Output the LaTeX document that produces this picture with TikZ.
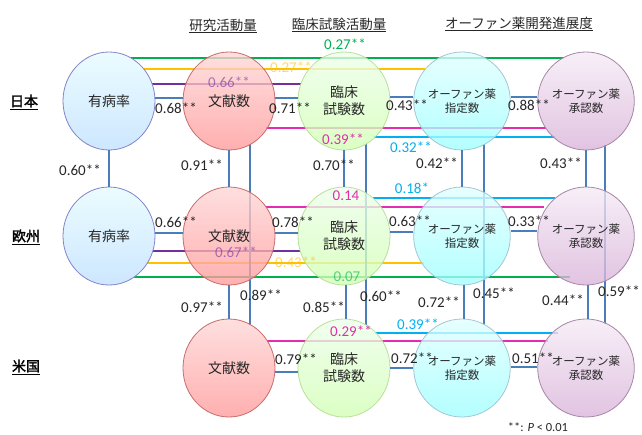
\documentclass[tikz,border=0pt]{standalone}
\usepackage{fontspec}
\setmainfont{Carlito}
\newfontfamily\jp{Noto Sans CJK JP}
\newfontfamily\jpb[FakeBold=2]{Noto Sans CJK JP}
\usetikzlibrary{shapes.geometric,calc}
\definecolor{conn}{HTML}{4A7EBB}
\definecolor{cgreen}{HTML}{00B050}
\definecolor{cyellow}{HTML}{FFC000}
\definecolor{cpurple}{HTML}{7030A0}
\definecolor{cmag}{HTML}{E32DB0}
\definecolor{ccyan}{HTML}{00B0F0}
\definecolor{txt}{HTML}{262626}
\begin{document}
\begin{tikzpicture}[x=1pt,y=-1pt,
  circ/.style={ellipse, minimum width=92pt, minimum height=98pt, inner sep=0pt,
    line width=0.8pt, fill opacity=0.78, text opacity=1, align=center,
    text=txt, font=\jp\fontsize{14}{17}\selectfont},
  prevc/.style={circ, draw=blue!40!gray!70, top color=blue!14!cyan!10, bottom color=blue!48!cyan!25},
  litc/.style={circ, draw=red!45!gray!80, top color=red!16, bottom color=red!40},
  clinc/.style={circ, draw=green!40!olive!40, top color=yellow!10!green!8, bottom color=yellow!40!green!30},
  desc/.style={circ, draw=cyan!40!gray!60, top color=cyan!12, bottom color=cyan!38, font=\jp\fontsize{11.5}{14.5}\selectfont},
  appc/.style={circ, draw=violet!35!gray!70, top color=violet!8, bottom color=violet!30, font=\jp\fontsize{11.5}{14.5}\selectfont},
  cn/.style={line width=2.2pt, draw=conn},
  cl/.style={line width=2.2pt, draw=#1},
  num/.style={inner sep=0pt, text=txt, font=\fontsize{15}{16}\selectfont},
  cnum/.style={inner sep=0pt, text=#1, font=\fontsize{15}{16}\selectfont},
  fnum/.style={inner sep=0pt, text=#1, text opacity=0.6, font=\fontsize{15}{16}\selectfont},
  head/.style={inner sep=0pt, text=txt, font=\jp\fontsize{13.5}{16}\selectfont},
  rowl/.style={inner sep=0pt, text=black, font=\jpb\fontsize{14}{16}\selectfont}
]
\useasboundingbox (0,0) rectangle (642,434);

\coordinate (jPc) at (109,101); \coordinate (jLc) at (229,101); \coordinate (jCc) at (344,101);
\coordinate (jDc) at (462,101); \coordinate (jAc) at (586,101);
\coordinate (ePc) at (109,236); \coordinate (eLc) at (229,236); \coordinate (eCc) at (344,236);
\coordinate (eDc) at (462,236); \coordinate (eAc) at (586,236);
\coordinate (uLc) at (229,368); \coordinate (uCc) at (344,368);
\coordinate (uDc) at (462,368); \coordinate (uAc) at (586,368);

% Japan coloured lines
\draw[cl=cgreen]  ($(jPc)+(22,-43)$) -- ($(jAc)+(-22,-43)$);
\draw[cl=cyellow] ($(jPc)+(35,-32)$) -- ($(jDc)+(-37,-32)$);
\draw[cl=cpurple] ($(jPc)+(43,-17)$) -- ($(jCc)+(-43,-17)$);
\draw[cl=cmag]    ($(jLc)+(37,27)$) -- ($(jAc)+(-40,27)$);
\draw[cl=ccyan]   ($(jCc)+(30,36)$) -- ($(jAc)+(-31,36)$);
% Europe coloured lines
\draw[cl=ccyan]   ($(eCc)+(29,-38)$) -- ($(eAc)+(-31,-38)$);
\draw[cl=cmag]    ($(eLc)+(37,-29)$) -- ($(eAc)+(-42,-29)$);
\draw[cl=cpurple] ($(ePc)+(44,15)$) -- ($(eCc)+(-44,15)$);
\draw[cl=cyellow] ($(ePc)+(38,27)$) -- ($(eDc)+(-38,27)$);
\draw[cl=cgreen]  ($(ePc)+(25,41)$) -- ($(eAc)+(-16,41)$);
% US coloured lines
\draw[cl=cmag]    ($(uLc)+(38,-27)$) -- ($(uAc)+(-38,-27)$);
\draw[cl=ccyan]   ($(uCc)+(31,-35)$) -- ($(uAc)+(-28,-35)$);

% long Japan-US verticals
\draw[cn] ($(jLc)+(21,43)$) -- ($(uLc)+(21,-43)$);
\draw[cn] ($(jCc)+(22,43)$) -- ($(uCc)+(22,-43)$);
\draw[cn] ($(jDc)+(22,43)$) -- ($(uDc)+(22,-43)$);
\draw[cn] ($(jAc)+(19,44)$) -- ($(uAc)+(19,-44)$);

% circles
\node[prevc] (jP) at (jPc) {有病率};
\node[litc]  (jL) at (jLc) {文献数};
\node[clinc] (jC) at (jCc) {臨床\\試験数};
\node[desc]  (jD) at (jDc) {オーファン薬\\指定数};
\node[appc]  (jA) at (jAc) {オーファン薬\\承認数};
\node[prevc] (eP) at (ePc) {有病率};
\node[litc]  (eL) at (eLc) {文献数};
\node[clinc] (eC) at (eCc) {臨床\\試験数};
\node[desc]  (eD) at (eDc) {オーファン薬\\指定数};
\node[appc]  (eA) at (eAc) {オーファン薬\\承認数};
\node[litc]  (uL) at (uLc) {文献数};
\node[clinc] (uC) at (uCc) {臨床\\試験数};
\node[desc]  (uD) at (uDc) {オーファン薬\\指定数};
\node[appc]  (uA) at (uAc) {オーファン薬\\承認数};

% faded coloured labels
\node[fnum=cyellow] (y1) at (291,67) {0.27**};
\node[fnum=cpurple] (p1) at (229,82) {0.66**};
\node[fnum=cpurple] (p2) at (236,252) {0.67**};
\node[fnum=cyellow] (y2) at (296,262) {0.43**};
\node[fnum=cgreen] (g2) at (347,277) {0.07};

% short horizontal connectors
\draw[cn] ([yshift=3pt]jP.east) -- ([yshift=3pt]jL.west);
\draw[cn] ([yshift=3pt]jL.east) -- ([yshift=3pt]jC.west);
\draw[cn] ([yshift=4pt]jC.east) -- ([yshift=4pt]jD.west);
\draw[cn] ([yshift=4pt]jD.east) -- ([yshift=4pt]jA.west);
\draw[cn] ([yshift=3pt]eP.east) -- ([yshift=3pt]eL.west);
\draw[cn] ([yshift=3pt]eL.east) -- ([yshift=3pt]eC.west);
\draw[cn] ([yshift=4pt]eC.east) -- ([yshift=4pt]eD.west);
\draw[cn] ([yshift=5pt]eD.east) -- ([yshift=5pt]eA.west);
\draw[cn] ([yshift=-4pt]uL.east) -- ([yshift=-4pt]uC.west);
\draw[cn] (uC.east) -- (uD.west);
\draw[cn] ([yshift=1pt]uD.east) -- ([yshift=1pt]uA.west);
% short vertical connectors
\draw[cn] (jP.south) -- (eP.north);
\draw[cn] (jL.south) -- (eL.north);
\draw[cn] (jC.south) -- (eC.north);
\draw[cn] (jD.south) -- (eD.north);
\draw[cn] (jA.south) -- (eA.north);
\draw[cn] (eL.south) -- (uL.north);
\draw[cn] ([xshift=2pt]eC.south) -- ([xshift=2pt]uC.north);
\draw[cn] ([xshift=2pt]eD.south) -- ([xshift=2pt]uD.north);
\draw[cn] ([xshift=2pt]eA.south) -- ([xshift=2pt]uA.north);

% bright coloured labels
\node[cnum=cgreen] (g1) at (345,44) {0.27**};
\node[cnum=cmag] (m1) at (343,139) {0.39**};
\node[cnum=ccyan] (c1) at (411,147) {0.32**};
\node[cnum=ccyan] (c2) at (412,188) {0.18*};
\node[cnum=cmag] (m2) at (346,196) {0.14};
\node[cnum=cmag] (m3) at (351,331) {0.29**};
\node[cnum=ccyan] (c3) at (418,324) {0.39**};

% black labels
\node[num] (n1) at (176,108) {0.68**};
\node[num] (n2) at (290,108) {0.71**};
\node[num] (n3) at (407,105) {0.43**};
\node[num] (n4) at (529,105) {0.88**};
\node[num] (n5) at (80,170) {0.60**};
\node[num] (n6) at (202,165) {0.91**};
\node[num] (n7) at (334,165) {0.70**};
\node[num] (n8) at (437,163) {0.42**};
\node[num] (n9) at (561,163) {0.43**};
\node[num] (n10) at (176,222) {0.66**};
\node[num] (n11) at (293,222) {0.78**};
\node[num] (n12) at (410,221) {0.63**};
\node[num] (n13) at (529,221) {0.33**};
\node[num] (n14) at (202,307) {0.97**};
\node[num] (n15) at (261,295) {0.89**};
\node[num] (n16) at (324,307) {0.85**};
\node[num] (n17) at (381,296) {0.60**};
\node[num] (n18) at (439,302) {0.72**};
\node[num] (n19) at (494,293) {0.45**};
\node[num] (n20) at (563,300) {0.44**};
\node[num] (n21) at (619,291) {0.59**};
\node[num] (n22) at (296,359) {0.79**};
\node[num] (n23) at (412,358) {0.72**};
\node[num] (n24) at (533,358) {0.51**};

% headers
\node[head] (h1) at (223,26) {\underline{研究活動量}};
\node[head] (h2) at (339,25) {\underline{臨床試験活動量}};
\node[head] (h3) at (519,24) {\underline{オーファン薬開発進展度}};
% row labels
\node[rowl] (r1) at (24,102) {\underline{日本}};
\node[rowl] (r2) at (26,237) {\underline{欧州}};
\node[rowl] (r3) at (26,367) {\underline{米国}};
% footnote
\node[num, font=\fontsize{12.5}{14}\selectfont] (fn) at (538,427) {**: \textit{P} < 0.01};
\end{tikzpicture}
\end{document}
